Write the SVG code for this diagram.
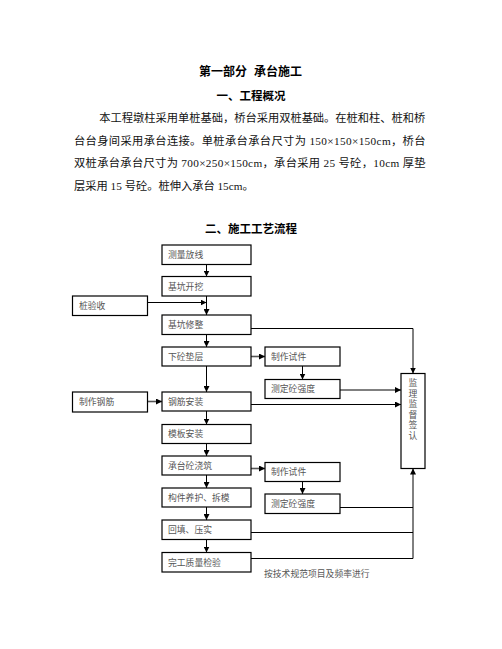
<svg xmlns="http://www.w3.org/2000/svg" width="502" height="649" viewBox="0 0 502 649">
<defs>
<marker id="ah" markerUnits="userSpaceOnUse" markerWidth="7" markerHeight="6" refX="6" refY="3" orient="auto">
<path d="M0,0 L6,3 L0,6 Z" fill="#000"/>
</marker>
<style>
.t{font-family:"Liberation Serif","Noto Sans CJK SC",serif;fill:#111}
.h{font-family:"Liberation Serif","Noto Sans CJK SC",serif;font-weight:bold;fill:#000;text-anchor:middle}
.bx{fill:#fff;stroke:#000;stroke-width:1.2}
.bt{font-family:"Liberation Serif","Noto Sans CJK SC",serif;font-size:8.8px;fill:#555}
.c{fill:none;stroke:#000;stroke-width:1}
.g{fill:none;stroke:#555;stroke-width:1.6}
</style>
</defs>
<rect width="502" height="649" fill="#fff"/>
<text class="h" x="250.5" y="76" font-size="12">第一部分<tspan dx="7">承台施工</tspan></text>
<text class="h" x="251" y="100" font-size="11.5">一、工程概况</text>
<text class="t" x="99.3" y="122" font-size="11.25" textLength="326" lengthAdjust="spacing">本工程墩柱采用单桩基础，桥台采用双桩基础。在桩和柱、桩和桥</text>
<text class="t" x="74" y="144.5" font-size="11.25" textLength="351.5" lengthAdjust="spacing">台台身间采用承台连接。单桩承台承台尺寸为 150×150×150cm，桥台</text>
<text class="t" x="74" y="167" font-size="11.25" textLength="351.5" lengthAdjust="spacing">双桩承台承台尺寸为 700×250×150cm，承台采用 25 号砼，10cm 厚垫</text>
<text class="t" x="74" y="189.5" font-size="11.25">层采用 15 号砼。桩伸入承台 15cm。</text>
<text class="h" x="251" y="233" font-size="11.5">二、施工工艺流程</text>

<g id="connectors">
<line class="c" x1="206.5" y1="264.5" x2="206.5" y2="276.5" marker-end="url(#ah)"/>
<line class="c" x1="206.5" y1="296" x2="206.5" y2="315" marker-end="url(#ah)"/>
<line class="c" x1="206.5" y1="334.5" x2="206.5" y2="347" marker-end="url(#ah)"/>
<line class="c" x1="206.5" y1="366" x2="206.5" y2="392" marker-end="url(#ah)"/>
<line class="c" x1="206.5" y1="411" x2="206.5" y2="424.5" marker-end="url(#ah)"/>
<line class="c" x1="206.5" y1="443.5" x2="206.5" y2="456" marker-end="url(#ah)"/>
<line class="c" x1="206.5" y1="475" x2="206.5" y2="488" marker-end="url(#ah)"/>
<line class="c" x1="206.5" y1="507" x2="206.5" y2="520" marker-end="url(#ah)"/>
<line class="c" x1="206.5" y1="539.5" x2="206.5" y2="552.5" marker-end="url(#ah)"/>
<line class="c" x1="147.5" y1="302.5" x2="206.5" y2="302.5" marker-end="url(#ah)"/>
<line class="g" x1="147.5" y1="401.5" x2="162" y2="401.5" marker-end="url(#ah)"/>
<line class="g" x1="251" y1="356.5" x2="265" y2="356.5" marker-end="url(#ah)"/>
<line class="c" x1="302.5" y1="366" x2="302.5" y2="379.5" marker-end="url(#ah)"/>
<line class="g" x1="251" y1="468.5" x2="265" y2="468.5" marker-end="url(#ah)"/>
<line class="c" x1="302.5" y1="481.5" x2="302.5" y2="494" marker-end="url(#ah)"/>
<polyline class="c" points="251,328.5 413,328.5 413,373.5" marker-end="url(#ah)"/>
<line class="c" x1="340" y1="390" x2="401" y2="390" marker-end="url(#ah)"/>
<line class="c" x1="251" y1="404.5" x2="401" y2="404.5" marker-end="url(#ah)"/>
<line class="c" x1="340" y1="507.5" x2="413" y2="507.5"/>
<line class="c" x1="251" y1="532.5" x2="413" y2="532.5"/>
<polyline class="c" points="251,558.5 413,558.5 413,468.5" marker-end="url(#ah)"/>
</g>

<g id="n1"><rect class="bx" x="162" y="245" width="89" height="19.5"/><text class="bt" x="168" y="258">测量放线</text></g>
<g id="n2"><rect class="bx" x="162" y="276.5" width="89" height="19.5"/><text class="bt" x="168" y="289.5">基坑开挖</text></g>
<g id="n3"><rect class="bx" x="72.5" y="296" width="75" height="19.5"/><text class="bt" x="79" y="309">桩验收</text></g>
<g id="n4"><rect class="bx" x="162" y="315" width="89" height="19.5"/><text class="bt" x="168" y="328">基坑修整</text></g>
<g id="n5"><rect class="bx" x="162" y="347" width="89" height="19"/><text class="bt" x="168" y="359.5">下砼垫层</text></g>
<g id="n6"><rect class="bx" x="265" y="347" width="75" height="19"/><text class="bt" x="271" y="359.5">制作试件</text></g>
<g id="n7"><rect class="bx" x="265" y="379.5" width="75" height="19"/><text class="bt" x="271" y="392">测定砼强度</text></g>
<g id="n8"><rect class="bx" x="72.5" y="392" width="75" height="20"/><text class="bt" x="79" y="405">制作钢筋</text></g>
<g id="n9"><rect class="bx" x="162" y="392" width="89" height="19"/><text class="bt" x="168" y="404.5">钢筋安装</text></g>
<g id="n10"><rect class="bx" x="162" y="424.5" width="89" height="19"/><text class="bt" x="168" y="437">模板安装</text></g>
<g id="n11"><rect class="bx" x="162" y="456" width="89" height="19"/><text class="bt" x="168" y="468.5">承台砼浇筑</text></g>
<g id="n12"><rect class="bx" x="265" y="462.5" width="75" height="19"/><text class="bt" x="271" y="475">制作试件</text></g>
<g id="n13"><rect class="bx" x="162" y="488" width="89" height="19"/><text class="bt" x="168" y="500.5">构件养护、拆模</text></g>
<g id="n14"><rect class="bx" x="265" y="494" width="75" height="19.5"/><text class="bt" x="271" y="507">测定砼强度</text></g>
<g id="n15"><rect class="bx" x="162" y="520" width="89" height="19.5"/><text class="bt" x="168" y="533">回填、压实</text></g>
<g id="n16"><rect class="bx" x="162" y="552.5" width="89" height="19.5"/><text class="bt" x="168" y="565.5">完工质量检验</text></g>
<g id="n17"><rect class="bx" x="401" y="373.5" width="24" height="95"/>
<text class="bt" text-anchor="middle">
<tspan x="413" y="386">监</tspan><tspan x="413" y="396.5">理</tspan><tspan x="413" y="407">监</tspan><tspan x="413" y="417.5">督</tspan><tspan x="413" y="428">签</tspan><tspan x="413" y="438.5">认</tspan>
</text></g>
<text class="bt" x="264" y="577" fill="#444">按技术规范项目及频率进行</text>
</svg>
